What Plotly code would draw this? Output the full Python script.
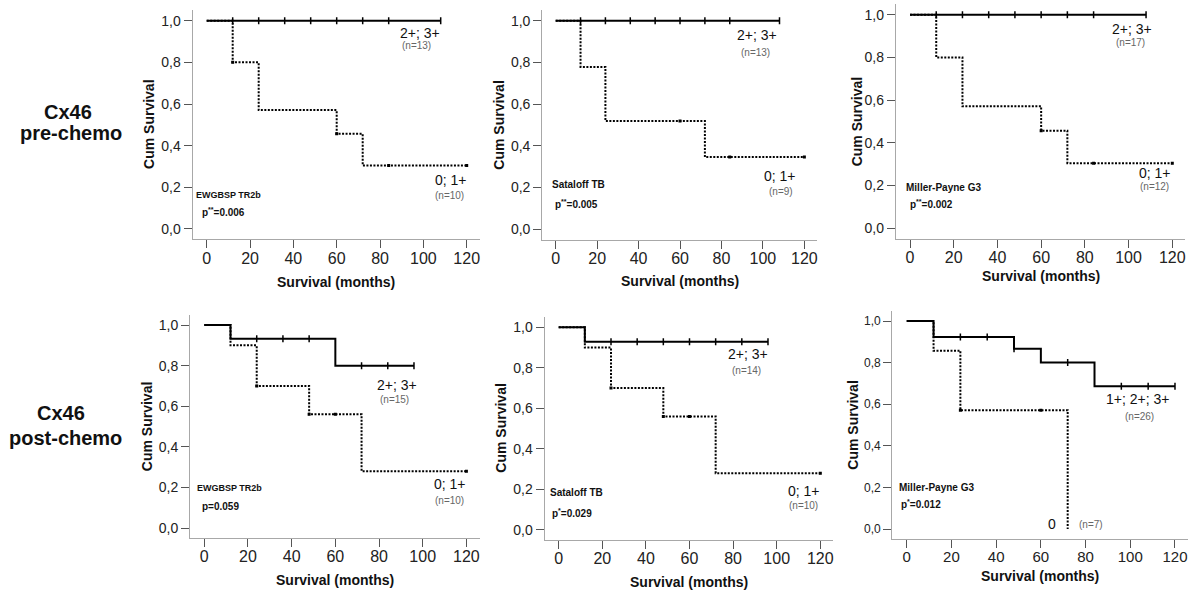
import plotly.graph_objects as go

W, H = 1200, 594

# ---------------- data ----------------
month_ticks = [0, 20, 40, 60, 80, 100, 120]
surv_ticks = [0.0, 0.2, 0.4, 0.6, 0.8, 1.0]
surv_tick_labels = ["0,0", "0,2", "0,4", "0,6", "0,8", "1,0"]

row_labels = [("Cx46", "pre-chemo"), ("Cx46", "post-chemo")]
methods = ["EWGBSP TR2b", "Sataloff TB", "Miller-Payne G3",
           "EWGBSP TR2b", "Sataloff TB", "Miller-Payne G3"]
p_values = ["p<sup>**</sup>=0.006", "p<sup>**</sup>=0.005", "p<sup>**</sup>=0.002",
            "p=0.059", "p<sup>*</sup>=0.029", "p<sup>*</sup>=0.012"]
high_labels = ["2+; 3+", "2+; 3+", "2+; 3+", "2+; 3+", "2+; 3+", "1+; 2+; 3+"]
high_n = ["(n=13)", "(n=13)", "(n=17)", "(n=15)", "(n=14)", "(n=26)"]
low_labels = ["0; 1+", "0; 1+", "0; 1+", "0; 1+", "0; 1+", "0"]
low_n = ["(n=10)", "(n=9)", "(n=12)", "(n=10)", "(n=10)", "(n=7)"]

# high-expression groups (solid)
p1_hi_t = [0, 108];                 p1_hi_s = [1.0, 1.0]
p2_hi_t = [0, 108];                 p2_hi_s = [1.0, 1.0]
p3_hi_t = [0, 108];                 p3_hi_s = [1.0, 1.0]
p4_hi_t = [0, 12, 60, 96];          p4_hi_s = [1.0, 0.933, 0.8, 0.8]
p5_hi_t = [0, 12, 96];              p5_hi_s = [1.0, 0.929, 0.929]
p6_hi_t = [0, 12, 48, 60, 84, 120]; p6_hi_s = [1.0, 0.923, 0.866, 0.80, 0.686, 0.686]

p1_hi_c = [12, 24, 36, 48, 60, 72, 84, 108]
p2_hi_c = [12, 24, 36, 48, 60, 72, 84, 108]
p3_hi_c = [12, 24, 36, 48, 60, 72, 84, 108]
p4_hi_c = [24, 36, 48, 72, 84, 96]
p5_hi_c = [24, 36, 48, 60, 72, 84, 96]
p6_hi_c = [24, 36, 48, 72, 96, 108, 120]

# low-expression groups (dotted)
p1_lo_t = [0, 12, 24, 60, 72, 120]; p1_lo_s = [1.0, 0.8, 0.571, 0.457, 0.305, 0.305]
p2_lo_t = [0, 12, 24, 72, 120];     p2_lo_s = [1.0, 0.778, 0.519, 0.346, 0.346]
p3_lo_t = [0, 12, 24, 60, 72, 120]; p3_lo_s = [1.0, 0.8, 0.571, 0.457, 0.305, 0.305]
p4_lo_t = [0, 12, 24, 48, 72, 120]; p4_lo_s = [1.0, 0.9, 0.7, 0.56, 0.28, 0.28]
p5_lo_t = [0, 12, 24, 48, 72, 120]; p5_lo_s = [1.0, 0.9, 0.7, 0.56, 0.28, 0.28]
p6_lo_t = [0, 12, 24, 72];          p6_lo_s = [1.0, 0.857, 0.571, 0.0]

p1_lo_c = [12, 60, 84, 120]
p2_lo_c = [60, 84, 120]
p3_lo_c = [60, 84, 120]
p4_lo_c = [24, 48, 60, 120]
p5_lo_c = [24, 48, 60, 120]
p6_lo_c = [24, 60]

# ---------------- layout (pixels) ----------------
# plot-area boxes: left, right, top, bottom
boxes = [
    (192.6, 479.7, 10.3, 239.4),
    (542.2, 816.8, 10.3, 239.7),
    (895.8, 1185.4, 4.0, 239.0),
    (190.1, 479.5, 314.9, 538.2),
    (544.5, 833.4, 317.2, 540.1),
    (892.2, 1188.4, 310.6, 539.4),
]
XR = [-6.5, 126]
YR = [-0.05, 1.05]

# text positions in pixels
high_pos = [((419.5, 33), (416, 46)), ((757, 35), (755, 52.5)), ((1132, 28.5), (1130, 42.5)),
            ((396.5, 385), (394, 399.5)), ((748, 354), (746, 370)), ((1137.5, 399), (1139, 416))]
low_pos = [((450.5, 180), (449.5, 195)), ((779.5, 176), (780.5, 191.5)), ((1154.5, 173.5), (1154.5, 186)),
           ((450, 484), (449.5, 500)), ((804, 491), (803.5, 505)), ((1051.5, 524), (1090.5, 524.5))]
method_pos = [(193.5, 194.5), (550, 185), (904, 187.5), (195, 488.5), (547.5, 492), (896.5, 487)]
pval_pos = [(199.5, 212.5), (552.5, 204), (908, 204), (199.5, 506), (549.5, 512.5), (898.5, 504)]
xtitle_y = [282, 281.5, 276, 579.5, 581.5, 576]
ytitle_off = [43.5, 43.5, 39, 43.5, 43.5, 39.5]

FONT = "Liberation Sans, Arial, Helvetica, sans-serif"


def px(x):
    return x / W


def py(y):
    return 1 - y / H


def step_val(t, s, c):
    v = s[0]
    for ti, si in zip(t, s):
        if ti <= c:
            v = si
    return v


panels = [
    (p1_hi_t, p1_hi_s, p1_hi_c, p1_lo_t, p1_lo_s, p1_lo_c),
    (p2_hi_t, p2_hi_s, p2_hi_c, p2_lo_t, p2_lo_s, p2_lo_c),
    (p3_hi_t, p3_hi_s, p3_hi_c, p3_lo_t, p3_lo_s, p3_lo_c),
    (p4_hi_t, p4_hi_s, p4_hi_c, p4_lo_t, p4_lo_s, p4_lo_c),
    (p5_hi_t, p5_hi_s, p5_hi_c, p5_lo_t, p5_lo_s, p5_lo_c),
    (p6_hi_t, p6_hi_s, p6_hi_c, p6_lo_t, p6_lo_s, p6_lo_c),
]

fig = go.Figure()
annotations = []
layout_axes = {}

for i, (ht, hs, hc, lt, ls, lc) in enumerate(panels):
    k = "" if i == 0 else str(i + 1)
    xa, ya = "x" + k, "y" + k
    L, R, T, B = boxes[i]
    small = (i == 5)

    # solid line
    fig.add_trace(go.Scatter(x=ht, y=hs, xaxis=xa, yaxis=ya, mode="lines",
                             line=dict(color="black", width=2, shape="hv"),
                             showlegend=False, hoverinfo="skip"))
    fig.add_trace(go.Scatter(x=hc, y=[step_val(ht, hs, c) for c in hc], xaxis=xa, yaxis=ya,
                             mode="markers",
                             marker=dict(symbol="line-ns-open", size=5, color="black",
                                         line=dict(color="black", width=1.5)),
                             showlegend=False, hoverinfo="skip"))
    # dotted line
    fig.add_trace(go.Scatter(x=lt, y=ls, xaxis=xa, yaxis=ya, mode="lines",
                             line=dict(color="black", width=2, shape="hv", dash="2px,1.5px"),
                             showlegend=False, hoverinfo="skip"))
    fig.add_trace(go.Scatter(x=lc, y=[step_val(lt, ls, c) for c in lc], xaxis=xa, yaxis=ya,
                             mode="markers",
                             marker=dict(symbol="square", size=3, color="black"),
                             showlegend=False, hoverinfo="skip"))

    axkey = "xaxis" + k
    aykey = "yaxis" + k
    layout_axes[axkey] = dict(
        domain=[px(L), px(R)], range=XR, anchor=ya,
        tickmode="array", tickvals=month_ticks, ticktext=[str(v) for v in month_ticks],
        showline=True, linecolor="#a8a8a8", linewidth=1,
        ticks="outside", ticklen=8, tickwidth=1, tickcolor="#555",
        ticklabelstandoff=-4,
        showgrid=False, zeroline=False,
        tickfont=dict(family=FONT, size=15 if small else 16, color="#222"),
        fixedrange=True,
    )
    layout_axes[aykey] = dict(
        domain=[py(B), py(T)], range=YR, anchor=xa,
        tickmode="array", tickvals=surv_ticks, ticktext=surv_tick_labels,
        showline=True, linecolor="#a8a8a8", linewidth=1,
        ticks="outside", ticklen=8, tickwidth=1, tickcolor="#555",
        showgrid=False, zeroline=False,
        tickfont=dict(family=FONT, size=12 if small else 14, color="#222"),
        fixedrange=True,
    )

    # group labels
    (hx, hy), (hnx, hny) = high_pos[i]
    (lx, ly), (lnx, lny) = low_pos[i]
    for txt, x, y, sz, col in [
        (high_labels[i], hx, hy, 14, "#111"),
        (high_n[i], hnx, hny, 10, "#666"),
        (low_labels[i], lx, ly, 14, "#111"),
        (low_n[i], lnx, lny, 10, "#666"),
    ]:
        annotations.append(dict(text=txt, x=px(x), y=py(y), xref="paper", yref="paper",
                                xanchor="center", yanchor="middle", showarrow=False,
                                font=dict(family=FONT, size=sz, color=col)))
    mx, my = method_pos[i]
    annotations.append(dict(text="<b>%s</b>" % methods[i], x=px(mx), y=py(my),
                            xref="paper", yref="paper", xanchor="left", yanchor="middle",
                            showarrow=False,
                            font=dict(family=FONT, size=9 if i in (0, 3) else 10, color="#111")))
    pxv, pyv = pval_pos[i]
    annotations.append(dict(text="<b>%s</b>" % p_values[i], x=px(pxv), y=py(pyv),
                            xref="paper", yref="paper", xanchor="left", yanchor="middle",
                            showarrow=False, font=dict(family=FONT, size=10, color="#111")))
    # axis titles
    annotations.append(dict(text="<b>Survival (months)</b>", x=px((L + R) / 2), y=py(xtitle_y[i]),
                            xref="paper", yref="paper", xanchor="center", yanchor="middle",
                            showarrow=False, font=dict(family=FONT, size=14, color="#111")))
    annotations.append(dict(text="<b>Cum Survival</b>", x=px(L - ytitle_off[i]), y=py((T + B) / 2),
                            xref="paper", yref="paper", xanchor="center", yanchor="middle",
                            textangle=-90, showarrow=False,
                            font=dict(family=FONT, size=14, color="#111")))

# row labels
row_pos = [((67.5, 111.7), (70.8, 133.3)), ((61.3, 413.3), (65, 438.3))]
for (l1, l2), ((x1, y1), (x2, y2)) in zip(row_labels, row_pos):
    for txt, x, y in [(l1, x1, y1), (l2, x2, y2)]:
        annotations.append(dict(text="<b>%s</b>" % txt, x=px(x), y=py(y), xref="paper", yref="paper",
                                xanchor="center", yanchor="middle", showarrow=False,
                                font=dict(family=FONT, size=20, color="#111")))

fig.update_layout(
    width=W, height=H,
    margin=dict(l=0, r=0, t=0, b=0),
    paper_bgcolor="white", plot_bgcolor="white",
    showlegend=False,
    annotations=annotations,
    **layout_axes,
)

fig.write_html("out.html", config={"displayModeBar": False},
               post_script="document.body.style.margin='0';document.body.style.padding='0';"
                           "document.body.style.overflow='hidden';")
